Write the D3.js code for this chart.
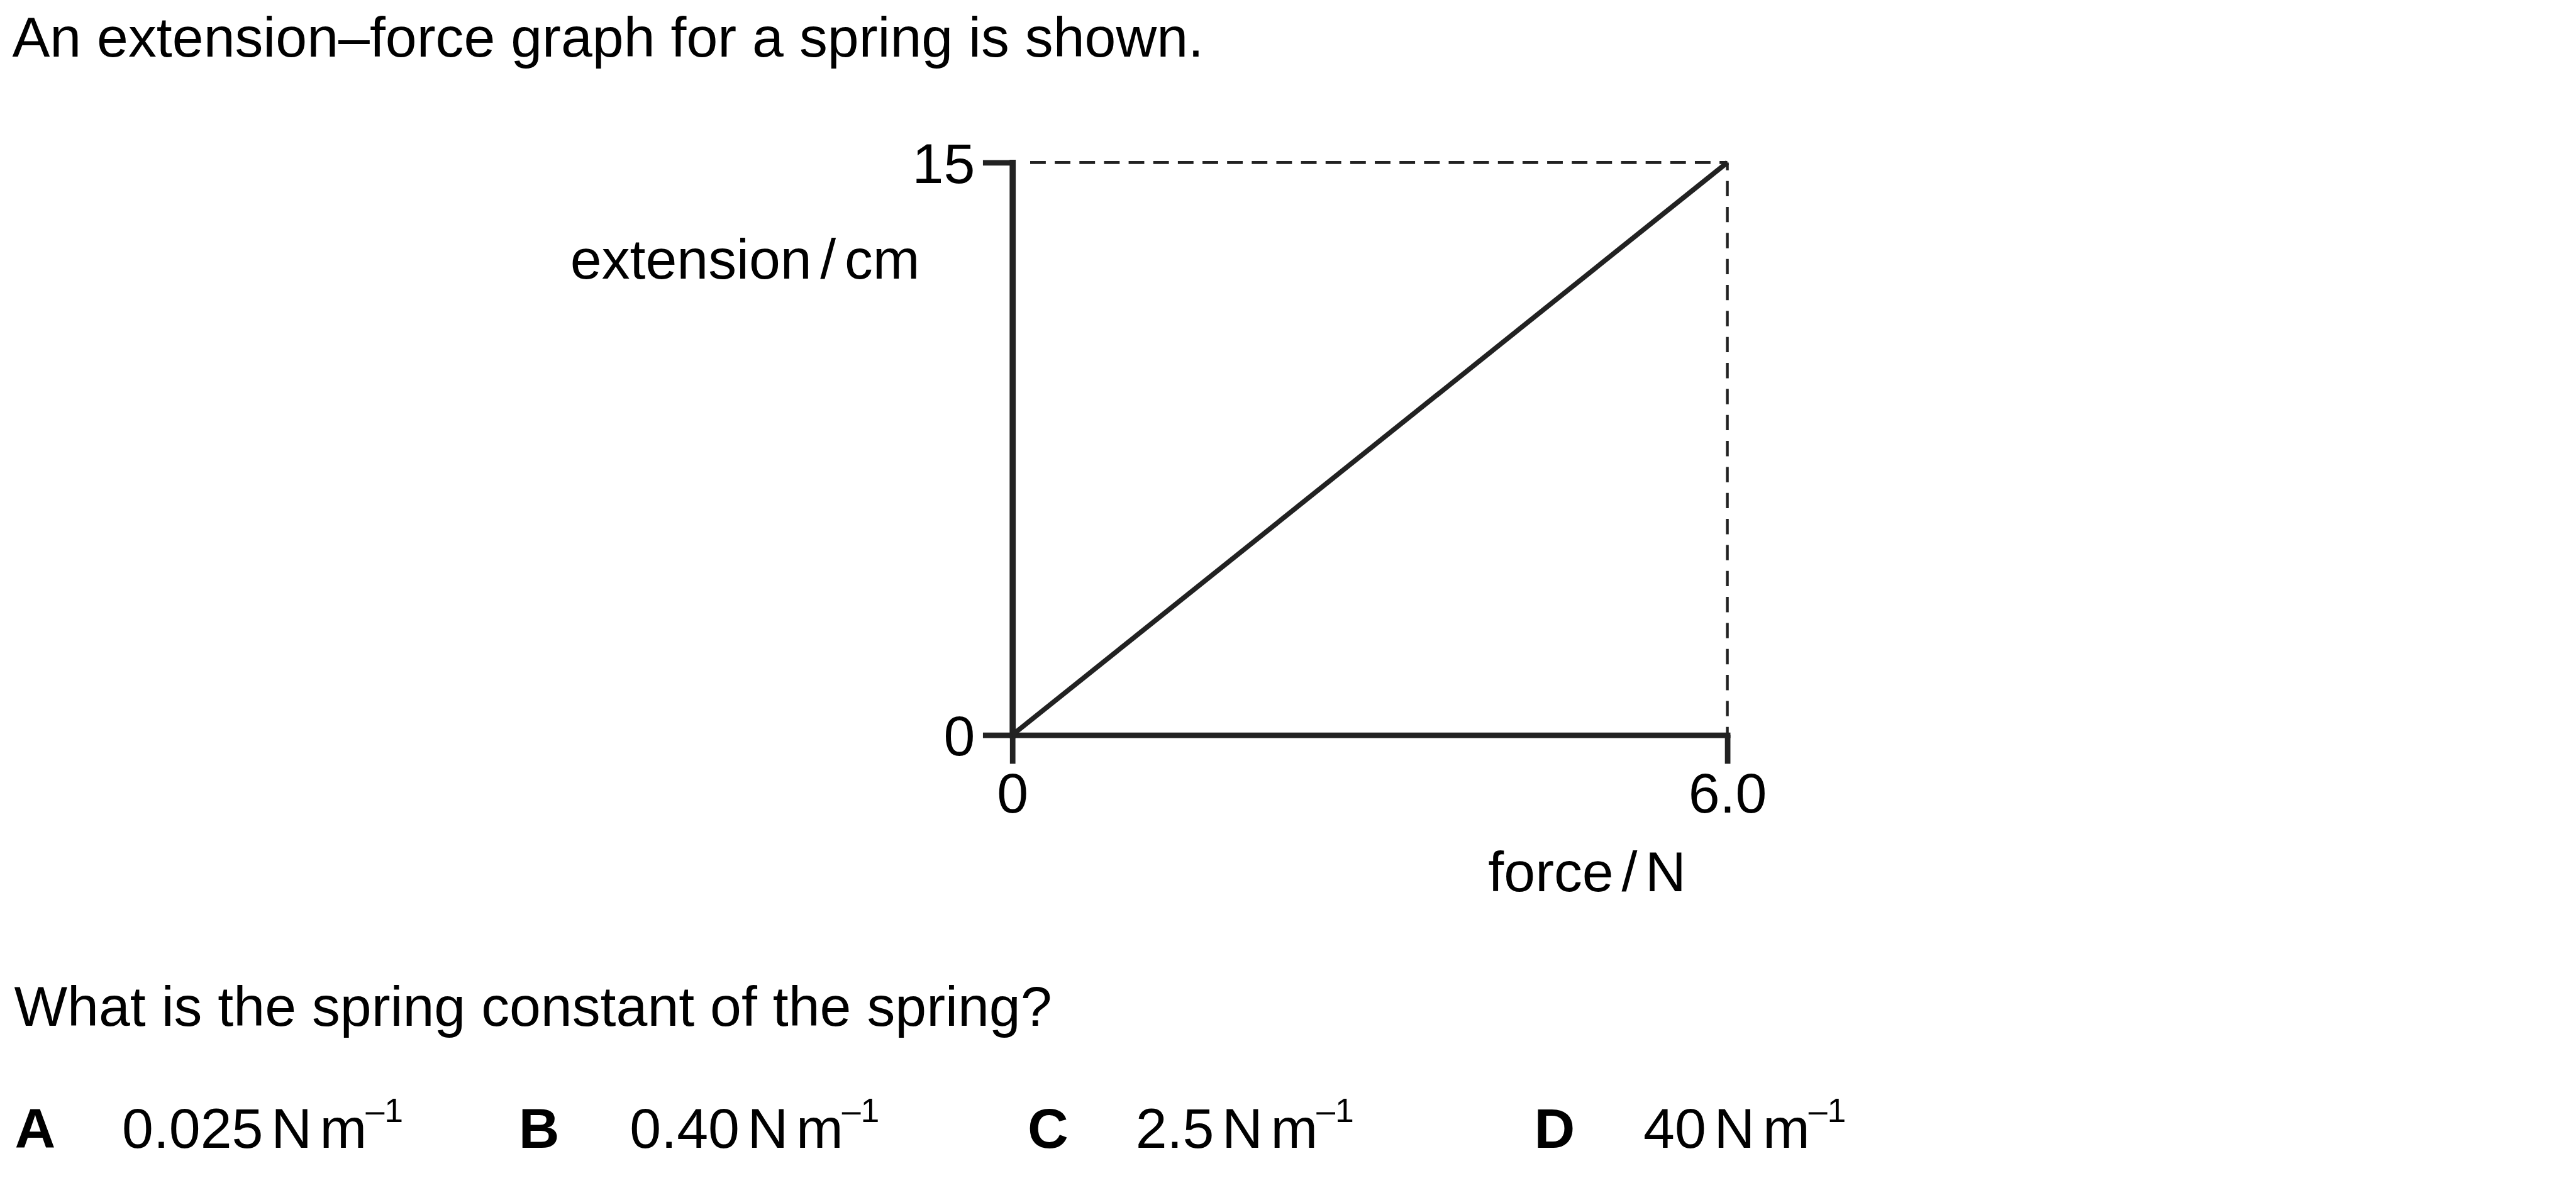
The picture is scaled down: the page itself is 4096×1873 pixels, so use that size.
<!DOCTYPE html>
<html>
<head>
<meta charset="utf-8">
<script src="https://cdn.jsdelivr.net/npm/d3@7/dist/d3.min.js"></script>
<style>
  html, body { margin: 0; padding: 0; background: #fff; }
  svg { display: block; }
  text { font-family: "Liberation Sans", Arial, Helvetica, sans-serif; fill: #000; }
</style>
</head>
<body>
<script>
// ---- data ----
const forceN = [0, 6.0];
const extensionCm = [0, 15];
const xTickValues = [0, 6.0];
const xTickLabels = ["0", "6.0"];
const yTickValues = [0, 15];
const yTickLabels = ["0", "15"];
const titleText = "An extension\u2013force graph for a spring is shown.";
const questionText = "What is the spring constant of the spring?";
const optionLetters = ["A", "B", "C", "D"];
const optionValues = ["0.025", "0.40", "2.5", "40"];
const xLabelParts = ["force", "/", "N"];
const yLabelParts = ["extension", "/", "cm"];

// ---- layout (reference pixel space, scaled by viewBox) ----
const W = 4201, H = 1921;
const FS = 92;
const ink = "#222";
const letterX = [24, 846, 1676, 2502];
const valueX = [199, 1027, 1852, 2680];

const svg = d3.select("body").append("svg")
  .attr("width", 4096).attr("height", 1873)
  .attr("viewBox", `0 0 ${W} ${H}`);

const x = d3.scaleLinear().domain([0, 6.0]).range([1651, 2817]);
const y = d3.scaleLinear().domain([0, 15]).range([1198.5, 265]);

// title & question
svg.append("text").attr("x", 20).attr("y", 92).attr("font-size", FS).text(titleText);
svg.append("text").attr("x", 23).attr("y", 1673).attr("font-size", FS).text(questionText);

// dashed guides
const xmax = d3.max(forceN), ymax = d3.max(extensionCm);
svg.append("line")
  .attr("x1", x(0) + 29).attr("x2", x(xmax))
  .attr("y1", y(ymax)).attr("y2", y(ymax))
  .attr("stroke", ink).attr("stroke-width", 5)
  .attr("stroke-dasharray", "25.5 14.65");
svg.append("line")
  .attr("x1", x(xmax)).attr("x2", x(xmax))
  .attr("y1", y(ymax)).attr("y2", y(0))
  .attr("stroke", ink).attr("stroke-width", 4.5)
  .attr("stroke-dasharray", "25 17.4")
  .attr("stroke-dashoffset", 12.4);

// axes
const yAxis = d3.axisLeft(y).tickValues(yTickValues).tickSize(48).tickSizeOuter(0)
  .tickFormat((d, i) => yTickLabels[i]);
const xAxis = d3.axisBottom(x).tickValues(xTickValues).tickSize(47).tickSizeOuter(0)
  .tickFormat((d, i) => xTickLabels[i]);

const gx = svg.append("g").attr("transform", `translate(0,${y(0)})`).call(xAxis);
const gy = svg.append("g").attr("transform", `translate(${x(0)},0)`).call(yAxis);

[gx, gy].forEach(g => {
  g.attr("font-family", null).attr("font-size", null);
  g.select(".domain").attr("stroke", ink).attr("stroke-width", 9).attr("stroke-linecap", "square");
  g.selectAll(".tick line").attr("stroke", ink).attr("stroke-width", 9);
  g.selectAll(".tick text").attr("font-size", FS).attr("fill", "#000");
});
gy.select(".domain").attr("stroke-width", 10);
gy.selectAll(".tick text").attr("x", -61).attr("dy", "0.36em");
gx.selectAll(".tick text").attr("y", 126.5).attr("dy", 0);

// data line
const pts = forceN.map((f, i) => [f, extensionCm[i]]);
svg.append("path")
  .datum(pts)
  .attr("d", d3.line().x(d => x(d[0])).y(d => y(d[1])))
  .attr("fill", "none").attr("stroke", ink).attr("stroke-width", 8);

// axis labels
const yl = svg.append("text").attr("x", 1500).attr("y", 454).attr("font-size", FS).attr("text-anchor", "end");
yl.append("tspan").text(yLabelParts[0]);
yl.append("tspan").attr("dx", 14).text(yLabelParts[1]);
yl.append("tspan").attr("dx", 14).text(yLabelParts[2]);

const xl = svg.append("text").attr("x", 2427).attr("y", 1453).attr("font-size", FS);
xl.append("tspan").text(xLabelParts[0]);
xl.append("tspan").attr("dx", 13).text(xLabelParts[1]);
xl.append("tspan").attr("dx", 13).text(xLabelParts[2]);

// options
optionLetters.forEach((L, i) => {
  svg.append("text").attr("x", letterX[i]).attr("y", 1872).attr("font-size", FS)
    .attr("font-weight", "bold").text(L);
  const t = svg.append("text").attr("x", valueX[i]).attr("y", 1872).attr("font-size", FS);
  t.append("tspan").text(optionValues[i]);
  t.append("tspan").attr("dx", 13).text("N");
  t.append("tspan").attr("dx", 13).text("m");
  t.append("tspan").attr("dx", -2).attr("dy", -42).attr("font-size", 55).text("\u20131");
});
</script>
</body>
</html>
